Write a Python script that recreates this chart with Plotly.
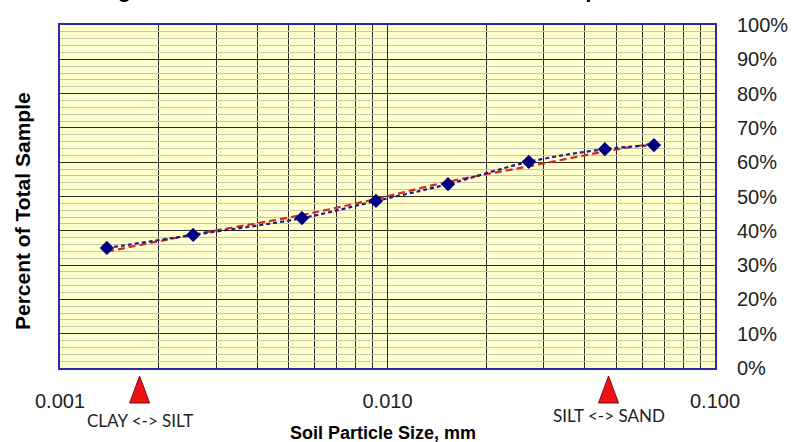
import math
import plotly.graph_objects as go

# ---- data ----
size_mm = [0.00139, 0.00255, 0.00548, 0.00922, 0.0153, 0.0270, 0.0461, 0.0651]
pct_finer = [35.0, 38.8, 43.7, 48.7, 53.6, 60.1, 63.8, 65.0]

trend_size_mm = [0.00139, 0.00255, 0.00548, 0.00922, 0.0153, 0.0270, 0.0461, 0.0651]
trend_pct = [33.9, 38.9, 44.6, 49.3, 54.3, 58.8, 63.1, 65.5]

x_tick_vals = [0.001, 0.01, 0.1]
x_tick_text = ["0.001", "0.010", "0.100"]
x_minor_vals = [m * d for d in (0.001, 0.01) for m in range(2, 10)]

boundary_sizes = [0.00175, 0.0473]
boundary_labels = ["CLAY <-> SILT", "SILT <-> SAND"]

title_text = "Weight Percent Finer vs. Particle Size of Total Sample"
y_title = "Percent of Total Sample"
x_title = "Soil Particle Size, mm"

# ---- layout geometry ----
W, H = 793, 442
ML, MR, MT, MB = 60, 78, 25, 74
PW = W - ML - MR
PH = H - MT - MB
XMIN, XMAX = -3, -1


def xpaper(v):
    return (math.log10(v) - XMIN) / (XMAX - XMIN)


def ypaper_px(py):
    return (H - MB - py) / PH


fig = go.Figure()

fig.add_trace(go.Scatter(
    x=trend_size_mm, y=trend_pct, mode="lines",
    line=dict(color="#d42a1e", width=2.2, dash="7px,4px", shape="spline"),
    showlegend=False, hoverinfo="skip"))

fig.add_trace(go.Scatter(
    x=size_mm, y=pct_finer, mode="lines+markers",
    line=dict(color="#1c1c8a", width=2.2, dash="4px,3px", shape="spline"),
    marker=dict(symbol="diamond", size=11, color="#000080"),
    showlegend=False))

shapes = []
annotations = []
label_py = [421, 415]
for v, lab, lpy in zip(boundary_sizes, boundary_labels, label_py):
    xc = xpaper(v)
    hw = 10 / PW
    top = ypaper_px(376)
    bot = ypaper_px(403)
    path = f"M {xc - hw} {bot} L {xc + hw} {bot} L {xc} {top} Z"
    shapes.append(dict(type="path", path=path, xref="paper", yref="paper",
                       fillcolor="#ee1111", line=dict(color="#7a1010", width=1)))
    annotations.append(dict(text=lab, x=xc, y=ypaper_px(lpy), xref="paper", yref="paper",
                            showarrow=False, xanchor="center", yanchor="middle",
                            font=dict(family="Lato", size=17, color="#222")))

annotations.append(dict(text=f"<b>{y_title}</b>", x=(22 - ML) / PW, y=ypaper_px(211),
                        xref="paper", yref="paper", textangle=-90, showarrow=False,
                        xanchor="center", yanchor="middle",
                        font=dict(family="Liberation Sans", size=21, color="#000")))
annotations.append(dict(text=f"<b>{x_title}</b>", x=(383 - ML) / PW, y=ypaper_px(433),
                        xref="paper", yref="paper", showarrow=False,
                        xanchor="center", yanchor="middle",
                        font=dict(family="Liberation Sans", size=18, color="#000")))
annotations.append(dict(text=f"<b>{title_text}</b>", x=(79 - ML) / PW, y=ypaper_px(4),
                        xref="paper", yref="paper", showarrow=False,
                        xanchor="left", yanchor="bottom",
                        font=dict(family="Liberation Sans", size=21, color="#000")))

fig.update_layout(
    width=W, height=H,
    margin=dict(l=ML, r=MR, t=MT, b=MB, autoexpand=False),
    paper_bgcolor="white", plot_bgcolor="#FFFFCC",
    shapes=shapes, annotations=annotations,
    font=dict(family="Liberation Sans", color="#111"),
)

fig.update_xaxes(
    type="log", range=[XMIN, XMAX], automargin=False,
    tickmode="array", tickvals=x_tick_vals, ticktext=x_tick_text,
    tickfont=dict(size=20, color="#222"),
    ticks="outside", ticklen=14, tickcolor="rgba(0,0,0,0)",
    showgrid=True, gridcolor="#2a2a2a", gridwidth=1.3,
    minor=dict(tickmode="array", tickvals=x_minor_vals, showgrid=True,
               gridcolor="#2a2a2a", gridwidth=1.3, ticks=""),
    showline=True, linecolor="#2a2ab0", linewidth=2, mirror=True,
    zeroline=False,
)

fig.update_yaxes(
    range=[0, 100], dtick=10, ticksuffix="%", side="right", automargin=False,
    tickfont=dict(size=20, color="#222"),
    ticks="outside", ticklen=16, tickcolor="rgba(0,0,0,0)",
    showgrid=True, gridcolor="#2a2a2a", gridwidth=1.2,
    minor=dict(dtick=2, showgrid=True, gridcolor="#c4c2b0", gridwidth=1, ticks=""),
    showline=True, linecolor="#2a2ab0", linewidth=2, mirror=True,
    zeroline=False,
)

fig.write_html("out.html", config={"displayModeBar": False},
               post_script="document.body.style.margin='0';document.body.style.overflow='hidden';")
